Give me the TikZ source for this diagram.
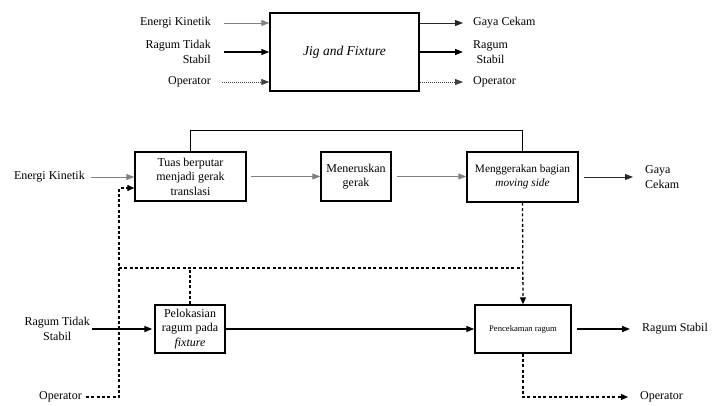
\documentclass[tikz,border=0pt]{standalone}
\usepackage{fontspec}
\setmainfont{Liberation Serif}
\usetikzlibrary{arrows.meta}
\begin{document}
\begin{tikzpicture}[x=1pt,y=-1pt,
  txt/.style={font=\rmfamily\fontsize{12}{14.5}\selectfont},
  box/.style={txt, draw, line width=1.4pt, align=center, inner sep=2pt},
  lbl/.style={txt, inner sep=0pt},
  tipA/.style={-{Triangle[length=8pt,width=6pt]}},
  thinarr/.style={tipA, draw=gray, line width=0.9pt},
  medarr/.style={tipA, draw=black!85, line width=1pt},
  thickarr/.style={tipA, draw=black, line width=1.6pt},
  dotarr/.style={tipA, draw=black!75, line width=0.8pt, dash pattern=on 1pt off 1pt},
  dashline/.style={draw=black, line width=1.3pt, dash pattern=on 3pt off 2.3pt},
  dasharr/.style={dashline, -{Triangle[length=7pt,width=6pt]}}
]
\useasboundingbox (0,0) rectangle (713,405);

% ---------- top diagram ----------
\node[box, minimum width=149pt, minimum height=78pt] (tb) at (344.5,52)
  {\fontsize{13.5}{16}\selectfont\itshape Jig and Fixture};

\node[lbl, anchor=east] (tEK) at (211,23) {Energi Kinetik};
\node[lbl, anchor=east, align=right] (tRT) at (211,52) {Ragum Tidak\\Stabil};
\node[lbl, anchor=east] (tOp) at (211,82) {Operator};

\node[lbl, anchor=west] (tGC) at (473,23) {Gaya Cekam};
\node[lbl, anchor=west, align=center] (tRS) at (473,52) {Ragum\\Stabil};
\node[lbl, anchor=west] (tOp2) at (473,82) {Operator};

\draw[thinarr] ([xshift=13pt]tEK.east) -- (tEK.east -| tb.west);
\draw[thickarr] ([xshift=13pt]tRT.east) -- (tRT.east -| tb.west);
\draw[dotarr] ([xshift=11pt]tOp.east) -- (tOp.east -| tb.west);

\draw[medarr] (tb.east |- tGC.west) -- ([xshift=-10pt]tGC.west);
\draw[thickarr] (tb.east |- tRS.west) -- ([xshift=-10pt]tRS.west);
\draw[dotarr] (tb.east |- tOp2.west) -- ([xshift=-10pt]tOp2.west);

% ---------- lower diagram ----------
\node[box, minimum width=111pt, minimum height=49pt] (b1) at (190.5,176.5)
  {Tuas berputar\\menjadi gerak\\translasi};
\node[box, minimum width=70pt, minimum height=49pt] (b2) at (356,176.5)
  {Meneruskan\\gerak};
\node[box, minimum width=111pt, minimum height=50pt, font=\rmfamily\fontsize{11.3}{14}\selectfont] (b3) at (522.5,177)
  {Menggerakan bagian\\\textit{moving side}};
\node[box, minimum width=70pt, minimum height=48pt] (b4) at (190,329)
  {Pelokasian\\ragum pada\\\textit{fixture}};
\node[box, minimum width=96pt, minimum height=48pt, font=\rmfamily\fontsize{8.6}{10}\selectfont] (b5) at (523,329)
  {Pencekaman ragum};

\node[lbl, anchor=east] (lEK) at (85,177) {Energi Kinetik};
\node[lbl, anchor=west, align=left] (lGC) at (645,177) {Gaya\\Cekam};
\node[lbl, anchor=east, align=center] (lRT) at (90,329) {Ragum Tidak\\Stabil};
\node[lbl, anchor=west] (lRS) at (642,329) {Ragum Stabil};
\node[lbl, anchor=east] (lOp) at (82,397) {Operator};
\node[lbl, anchor=west] (lOp2) at (640,397) {Operator};

\coordinate (cL) at (119,188);
\coordinate (hL) at (119,268);

% solid connectors
\draw[thinarr] ([xshift=6pt]lEK.east) -- (lEK.east -| b1.west);
\draw[thinarr] ([xshift=4pt]b1.east) -- (b1.east -| b2.west);
\draw[thinarr] ([xshift=5pt]b2.east) -- (b2.east -| b3.west);
\draw[medarr] ([xshift=5pt]b3.east) -- ([xshift=-12pt]lGC.west);
\draw[line width=1.4pt] (b1.north) -- ++(0,-21) -| (b3.north);

\draw[thickarr] ([xshift=2pt]lRT.east) -- ([xshift=-2pt]b4.west);
\draw[tipA, line width=1.3pt] (b4.east) -- (b5.west);
\draw[thickarr] ([xshift=5pt]b5.east) -- ([xshift=-12pt]lRS.west);

% dashed connectors
\draw[dasharr] ([xshift=4pt]lOp.east) -| (cL) -- (cL -| b1.west);
\draw[dashline] (hL) -- (hL -| b3.south);
\draw[dashline] (b4.north) -- (b4.north |- hL);
\draw[dasharr] (b3.south) -- (b5.north);
\draw[dasharr] (b5.south) |- ([xshift=-12pt]lOp2.west);
\end{tikzpicture}
\end{document}
